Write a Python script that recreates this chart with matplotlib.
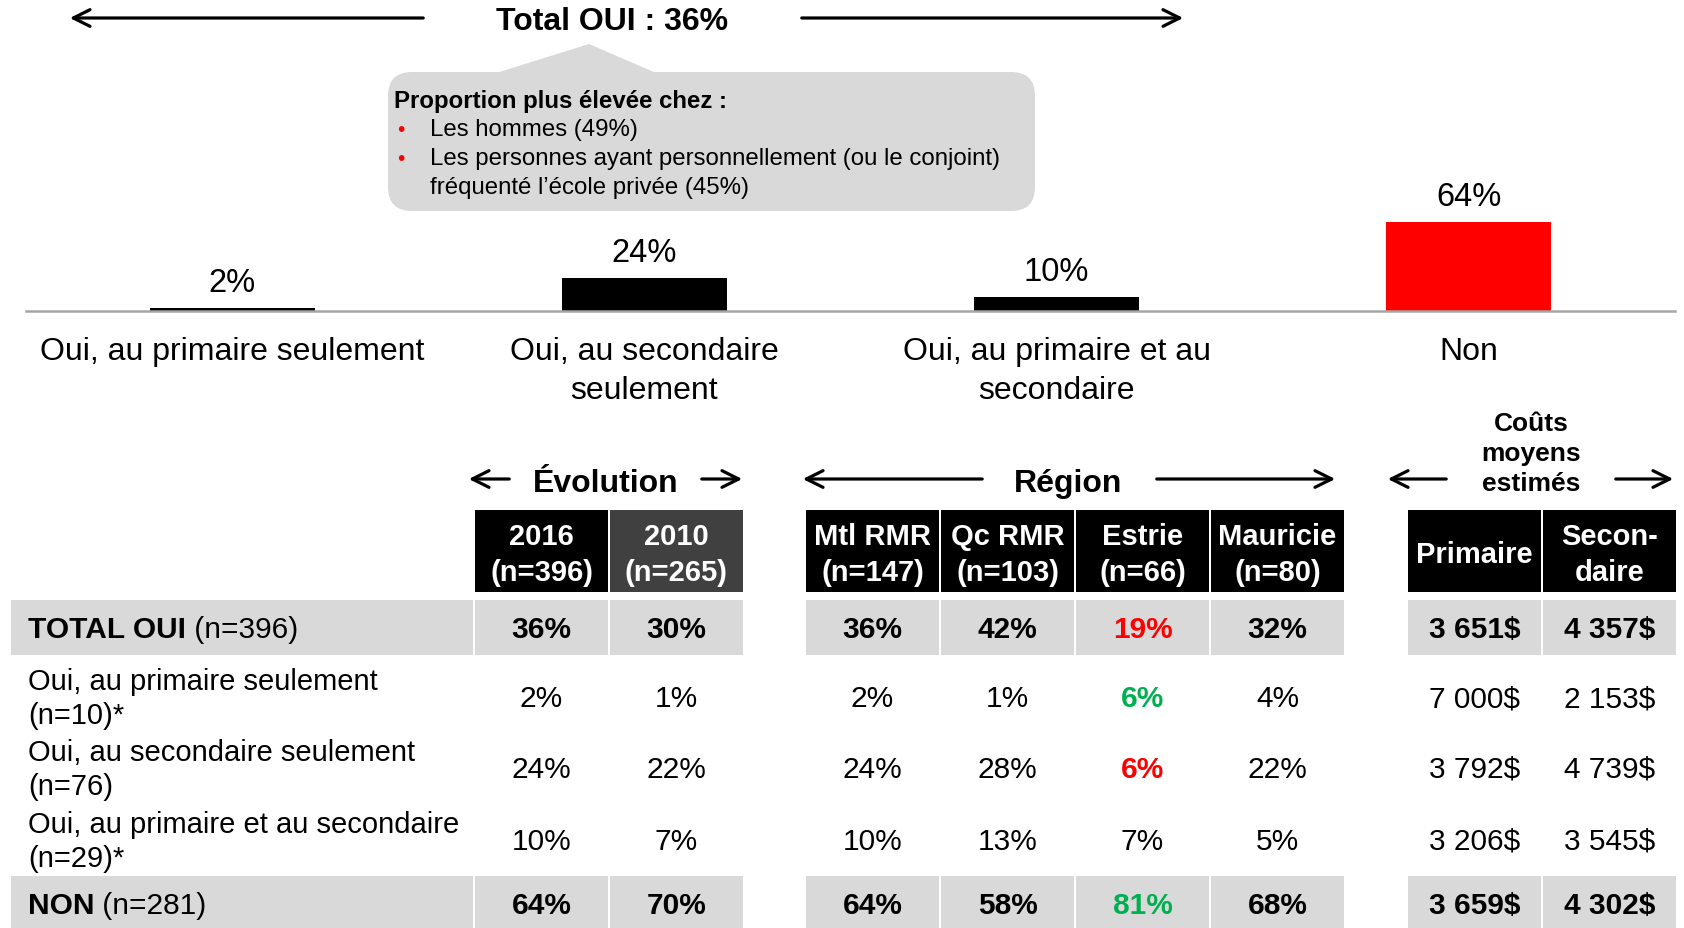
import matplotlib.pyplot as plt
from matplotlib.patches import Rectangle, FancyBboxPatch, Polygon

plt.rcParams['font.family'] = ['Liberation Sans', 'DejaVu Sans']

# bar chart data
categories = ["Oui, au primaire seulement", "Oui, au secondaire\nseulement",
              "Oui, au primaire et au\nsecondaire", "Non"]
values = [2, 24, 10, 64]
bar_colors = ["#000000", "#000000", "#000000", "#ff0000"]

# table data
row_bold = ["TOTAL OUI", "", "", "", "NON"]
row_rest = [" (n=396)", "Oui, au primaire seulement\n(n=10)*",
            "Oui, au secondaire seulement\n(n=76)",
            "Oui, au primaire et au secondaire\n(n=29)*", " (n=281)"]
col_heads = ["2016\n(n=396)", "2010\n(n=265)",
             "Mtl RMR\n(n=147)", "Qc RMR\n(n=103)", "Estrie\n(n=66)", "Mauricie\n(n=80)",
             "Primaire", "Secon-\ndaire"]
evol_2016 = [36, 2, 24, 10, 64]
evol_2010 = [30, 1, 22, 7, 70]
mtl = [36, 2, 24, 10, 64]
qc = [42, 1, 28, 13, 58]
estrie = [19, 6, 6, 7, 81]
mauricie = [32, 4, 22, 5, 68]
cost_prim = ["3 651$", "7 000$", "3 792$", "3 206$", "3 659$"]
cost_sec = ["4 357$", "2 153$", "4 739$", "3 545$", "4 302$"]
estrie_colors = ["#ff0000", "#00b050", "#ff0000", "#000000", "#00b050"]

W, H = 1684, 929
fig = plt.figure(figsize=(W / 100, H / 100), dpi=100)

# overlay in pixel coordinates
ov = fig.add_axes([0, 0, 1, 1])
ov.set_xlim(0, W)
ov.set_ylim(H, 0)
ov.axis('off')

# ---- bar chart ----
base_y = 312
px_per_unit = 89 / 64
ax = fig.add_axes([26 / W, (H - base_y) / H, (1675 - 26) / W, 100 * px_per_unit / H])
ax.patch.set_visible(False)
xs = list(range(len(values)))
ax.bar(xs, values, width=0.4, color=bar_colors)
ax.set_xlim(-0.5, 3.5)
ax.set_ylim(0, 100)
for s in ['top', 'left', 'right']:
    ax.spines[s].set_visible(False)
ax.spines['bottom'].set_color('#a6a6a6')
ax.spines['bottom'].set_linewidth(1.8)
ax.set_yticks([])
ax.set_xticks([])
for x, v in zip(xs, values):
    ax.annotate(f"{v}%", (x, v), xytext=(0, 7), textcoords='offset points',
                ha='center', va='bottom', fontsize=23.5)
for x, c in zip(xs, categories):
    ax.annotate(c, (x, 0), xytext=(0, -18), textcoords='offset points',
                ha='center', va='top', fontsize=23, linespacing=1.38)

# ---- top title with arrows ----
arrow_kw = dict(arrowstyle='->', lw=2.3, color='black', mutation_scale=30)
ov.annotate('', xy=(67, 19), xytext=(426, 19), arrowprops=arrow_kw)
ov.annotate('', xy=(1186, 19), xytext=(799, 19), arrowprops=arrow_kw)
ov.text(612, 22, "Total OUI : 36%", ha='center', va='center', fontsize=23, fontweight='bold')

# callout
ov.add_patch(FancyBboxPatch((388, 73), 647, 139, boxstyle="round,pad=0,rounding_size=24",
                            fc='#d9d9d9', ec='none'))
ov.add_patch(Polygon([(496, 74), (589, 45), (656, 74)], closed=True, fc='#d9d9d9', ec='none'))
ov.text(394, 101, "Proportion plus élevée chez :", ha='left', va='center',
        fontsize=17.3, fontweight='bold')
ov.text(397, 130, "•", color='#ff0000', ha='left', va='center', fontsize=15)
ov.text(430, 130, "Les hommes (49%)", ha='left', va='center', fontsize=17.3)
ov.text(397, 159, "•", color='#ff0000', ha='left', va='center', fontsize=15)
ov.text(430, 159, "Les personnes ayant personnellement (ou le conjoint)", ha='left',
        va='center', fontsize=17.3)
ov.text(430, 188, "fréquenté l’école privée (45%)", ha='left', va='center', fontsize=17.3)

# ---- section headers ----
ov.text(606, 484, "Évolution", ha='center', va='center', fontsize=23, fontweight='bold')
ov.annotate('', xy=(466, 480), xytext=(512, 480), arrowprops=arrow_kw)
ov.annotate('', xy=(745, 480), xytext=(699, 480), arrowprops=arrow_kw)
ov.text(1068, 484, "Région", ha='center', va='center', fontsize=23, fontweight='bold')
ov.annotate('', xy=(800, 480), xytext=(985, 480), arrowprops=arrow_kw)
ov.annotate('', xy=(1338, 480), xytext=(1154, 480), arrowprops=arrow_kw)
ov.text(1531, 454, "Coûts\nmoyens\nestimés", ha='center', va='center', fontsize=19,
        fontweight='bold', linespacing=1.34)
ov.annotate('', xy=(1385, 480), xytext=(1449, 480), arrowprops=arrow_kw)
ov.annotate('', xy=(1676, 480), xytext=(1613, 480), arrowprops=arrow_kw)

# ---- table ----
col_left = [475, 610, 806, 941, 1076, 1211, 1408, 1543]
col_w = 133
head_top, head_h = 511, 82
row_cy = [628, 697, 768, 840, 904]
row_h = 55
head_colors = ["#000000", "#404040"] + ["#000000"] * 6

for cl, txt, hc in zip(col_left, col_heads, head_colors):
    ov.add_patch(Rectangle((cl, head_top), col_w, head_h, fc=hc, ec='none'))
    ov.text(cl + col_w / 2, head_top + head_h / 2 + 3, txt, ha='center', va='center',
            color='white', fontsize=21, fontweight='bold', linespacing=1.38)

columns = [[f"{v}%" for v in evol_2016], [f"{v}%" for v in evol_2010],
           [f"{v}%" for v in mtl], [f"{v}%" for v in qc],
           [f"{v}%" for v in estrie], [f"{v}%" for v in mauricie],
           cost_prim, cost_sec]

fig.canvas.draw()
renderer = fig.canvas.get_renderer()

for i, cy in enumerate(row_cy):
    shaded = row_bold[i] != ""
    if shaded:
        ov.add_patch(Rectangle((11, cy - row_h / 2), 462, row_h, fc='#d9d9d9', ec='none'))
        for cl in col_left:
            ov.add_patch(Rectangle((cl, cy - row_h / 2), col_w, row_h, fc='#d9d9d9', ec='none'))
        t = ov.text(28, cy + 2, row_bold[i], ha='left', va='center', fontsize=21.5,
                    fontweight='bold')
        bb = t.get_window_extent(renderer)
        ov.text(bb.x1, cy + 2, row_rest[i], ha='left', va='center', fontsize=21.5)
    else:
        ov.text(28, cy + 2, row_rest[i], ha='left', va='center', fontsize=21, linespacing=1.3)
    for j, (cl, col) in enumerate(zip(col_left, columns)):
        color = estrie_colors[i] if j == 4 else '#000000'
        bold = shaded or color != '#000000'
        ov.text(cl + col_w / 2, cy + 2, col[i], ha='center', va='center', fontsize=21.5,
                color=color, fontweight='bold' if bold else 'normal')

fig.savefig("out.png", dpi=100)
